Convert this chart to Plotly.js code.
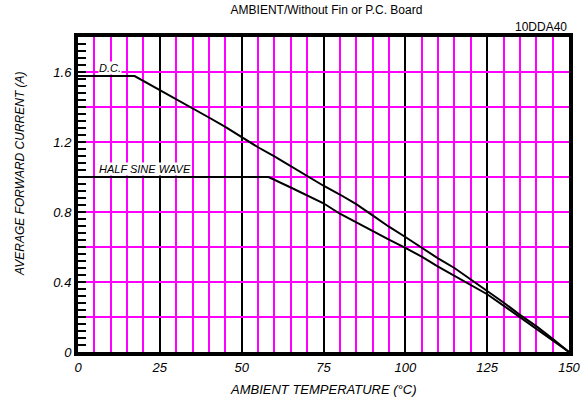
<!DOCTYPE html>
<html>
<head>
<meta charset="utf-8">
<script src="https://cdn.plot.ly/plotly-3.0.1.min.js"></script>
<style>html,body{margin:0;padding:0;background:#fff;}#chart{width:583px;height:403px;}</style>
</head>
<body>
<div id="chart"></div>
<script>
// Data
const dcTemp = [0, 17.3, 25, 30, 35, 40, 45, 50, 55, 60, 65, 70, 75, 80, 85, 90, 95, 100, 105, 110, 115, 120, 125, 130, 135, 140, 145, 150];
const dcCurrent = [1.577, 1.577, 1.497, 1.445, 1.396, 1.34, 1.287, 1.229, 1.17, 1.118, 1.063, 1.008, 0.95, 0.9, 0.845, 0.781, 0.716, 0.657, 0.594, 0.535, 0.48, 0.415, 0.352, 0.283, 0.212, 0.148, 0.076, 0];
const hswTemp = [0, 58.2, 65, 72.4, 75, 80, 85, 90, 95, 100, 105, 110, 115, 120, 125, 130, 135, 140, 145, 150];
const hswCurrent = [1.0, 1.0, 0.94, 0.874, 0.85, 0.79, 0.74, 0.69, 0.642, 0.595, 0.545, 0.488, 0.435, 0.382, 0.33, 0.265, 0.2, 0.135, 0.067, 0];
const xTickVals = [0, 25, 50, 75, 100, 125, 150];
const xTickText = ['0', '25', '50', '75', '100', '125', '150'];
const yTickVals = [0, 0.2, 0.4, 0.6, 0.8, 1.0, 1.2, 1.4, 1.6];
const yTickText = ['0', '', '0.4', '', '0.8', '', '1.2', '', '1.6'];
const seriesLabels = ['D.C.', 'HALF SINE WAVE'];

const FONT = 'Liberation Sans Narrow, Liberation Sans, Arial, sans-serif';
const traces = [
  {x: dcTemp, y: dcCurrent, mode: 'lines', line: {color: '#000', width: 2}, name: seriesLabels[0], hoverinfo: 'skip'},
  {x: hswTemp, y: hswCurrent, mode: 'lines', line: {color: '#000', width: 2}, name: seriesLabels[1], hoverinfo: 'skip'}
];
const layout = {
  width: 583, height: 403,
  margin: {l: 78, r: 14, t: 37, b: 51},
  paper_bgcolor: '#fff', plot_bgcolor: '#fff',
  showlegend: false,
  font: {family: FONT, color: '#000'},
  title: {text: 'AMBIENT/Without Fin or P.C. Board', font: {family: FONT, size: 12, color: '#000'}, x: 0.56, xanchor: 'center', y: 0.975, yanchor: 'middle'},
  xaxis: {
    range: [0, 150], tickmode: 'array', tickvals: xTickVals, ticktext: xTickText,
    showgrid: true, gridcolor: '#000', gridwidth: 2,
    minor: {dtick: 5, showgrid: true, gridcolor: '#ff00ff', gridwidth: 2, ticks: ''},
    ticks: '', zeroline: false,
    showline: true, linecolor: '#000', linewidth: 4, mirror: true,
    tickfont: {family: FONT, size: 13, style: 'italic'},
    fixedrange: true
  },
  yaxis: {
    range: [0, 1.8], tickmode: 'array', tickvals: yTickVals, ticktext: yTickText,
    showgrid: true, gridcolor: '#ff00ff', gridwidth: 2,
    ticks: 'inside', ticklen: 8, tickwidth: 2, tickcolor: '#000',
    minor: {dtick: 0.04, ticks: 'inside', ticklen: 8, tickwidth: 2, tickcolor: '#000', showgrid: false},
    zeroline: false,
    showline: true, linecolor: '#000', linewidth: 4, mirror: true,
    tickfont: {family: FONT, size: 13, style: 'italic'},
    fixedrange: true
  },
  annotations: [
    {text: '10DDA40', xref: 'paper', yref: 'paper', x: 1.0, y: 1.0, xanchor: 'right', yanchor: 'bottom', yshift: 1, showarrow: false, font: {family: FONT, size: 12, color: '#000'}},
    {text: seriesLabels[0], xref: 'x', yref: 'y', x: 6, y: 1.6, xanchor: 'left', yanchor: 'bottom', yshift: -3, showarrow: false, bgcolor: '#fff', borderpad: 0, font: {family: FONT, size: 11, style: 'italic', color: '#000'}},
    {text: seriesLabels[1], xref: 'x', yref: 'y', x: 6, y: 1.0, xanchor: 'left', yanchor: 'bottom', yshift: 1, showarrow: false, bgcolor: '#fff', borderpad: 0, font: {family: FONT, size: 11, style: 'italic', color: '#000'}},
    {text: 'AMBIENT TEMPERATURE (°C)', xref: 'paper', yref: 'paper', x: 0.5, y: 0, xanchor: 'center', yanchor: 'middle', yshift: -37, showarrow: false, font: {family: FONT, size: 13, style: 'italic', color: '#000'}},
    {text: 'AVERAGE FORWARD CURRENT (A)', xref: 'paper', yref: 'paper', x: 0, xanchor: 'center', yanchor: 'middle', xshift: -58, y: 0.565, textangle: -90, showarrow: false, font: {family: FONT, size: 12, style: 'italic', color: '#000'}}
  ]
};
Plotly.newPlot('chart', traces, layout, {staticPlot: true, displayModeBar: false});
</script>
</body>
</html>
